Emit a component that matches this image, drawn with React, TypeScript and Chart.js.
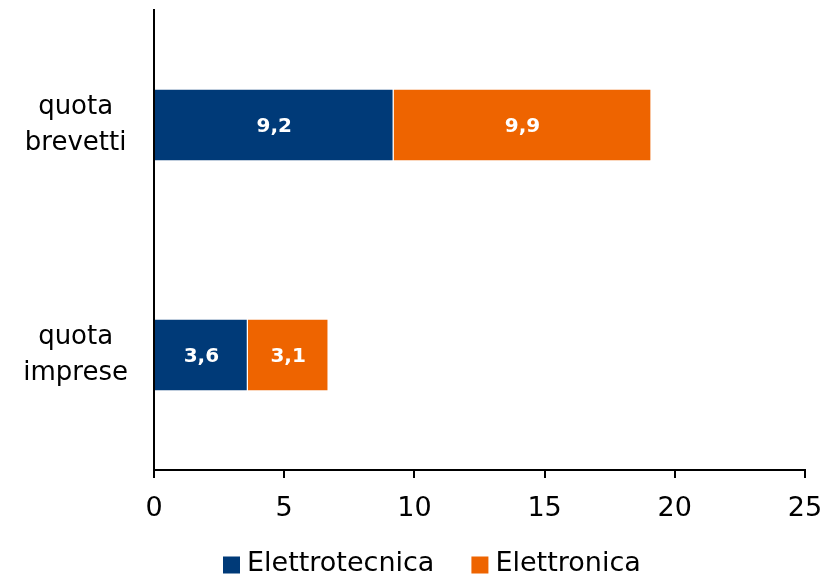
import React, { useEffect, useRef } from "react";
import { Chart, registerables } from "chart.js";

Chart.register(...registerables);

const categories: string[][] = [["quota", "brevetti"], ["quota", "imprese"]];
const seriesNames = ["Elettrotecnica", "Elettronica"];
const seriesColors = ["#003A78", "#EE6400"];
const elettrotecnica = [9.2, 3.6];
const elettronica = [9.9, 3.1];
const xTicks = [0, 5, 10, 15, 20, 25];

const FONT = "'DejaVu Sans', sans-serif";

const labelPlugin = {
  id: "barLabels",
  afterDatasetsDraw(chart: any) {
    const ctx = chart.ctx;
    ctx.save();
    ctx.fillStyle = "#ffffff";
    ctx.font = `bold 20px ${FONT}`;
    ctx.textAlign = "center";
    ctx.textBaseline = "middle";
    chart.data.datasets.forEach((ds: any, di: number) => {
      const meta = chart.getDatasetMeta(di);
      meta.data.forEach((bar: any, i: number) => {
        const v = ds.data[i];
        const cx = (bar.x + bar.base) / 2;
        ctx.fillText(String(v).replace(".", ","), cx, bar.y + 2);
      });
    });
    ctx.restore();
  },
};

const legendPlugin = {
  id: "customLegend",
  afterDraw(chart: any) {
    const ctx = chart.ctx;
    ctx.save();
    ctx.font = `27px ${FONT}`;
    ctx.textBaseline = "middle";
    ctx.textAlign = "left";
    const box = 17;
    const gapBoxText = 7;
    const gapItems = 37;
    const items = chart.data.datasets.map((d: any) => ({
      text: d.label,
      color: d.backgroundColor,
      w: ctx.measureText(d.label).width,
    }));
    let x = 223;
    const cy = 564;
    items.forEach((it: any) => {
      ctx.fillStyle = it.color;
      ctx.fillRect(x, cy - box / 2 + 1, box, box);
      x += box + gapBoxText;
      ctx.fillStyle = "#000";
      ctx.fillText(it.text, x, cy);
      x += it.w + gapItems;
    });
    ctx.restore();
  },
};

export default function App() {
  const ref = useRef<HTMLCanvasElement>(null);
  useEffect(() => {
    document.body.style.margin = "0";
    const chart = new Chart(ref.current!, {
      type: "bar",
      data: {
        labels: categories,
        datasets: [
          {
            label: seriesNames[0],
            data: elettrotecnica,
            backgroundColor: seriesColors[0],
            borderColor: "#ffffff",
            borderWidth: 1,
            barPercentage: 0.63,
            categoryPercentage: 0.5,
          },
          {
            label: seriesNames[1],
            data: elettronica,
            backgroundColor: seriesColors[1],
            borderColor: "#ffffff",
            borderWidth: 1,
            barPercentage: 0.63,
            categoryPercentage: 0.5,
          },
        ],
      },
      options: {
        indexAxis: "y",
        animation: false,
        responsive: false,
        maintainAspectRatio: false,
        layout: { padding: { top: 10, right: 18, bottom: 57, left: 0 } },
        plugins: {
          legend: { display: false },
          tooltip: { enabled: false },
        },
        scales: {
          x: {
            stacked: true,
            min: 0,
            max: 25,
            afterBuildTicks: (s: any) => {
              s.ticks = xTicks.map((v) => ({ value: v }));
            },
            grid: {
              drawOnChartArea: false,
              drawTicks: true,
              tickLength: 8,
              color: "#000",
              lineWidth: 2,
            },
            border: { color: "#000", width: 2 },
            ticks: {
              font: { family: FONT, size: 27 },
              color: "#000",
              padding: 15,
              maxRotation: 0,
            },
            afterFit: (s: any) => {
              s.height = 50;
              s.paddingLeft = 0;
              s.paddingRight = 0;
            },
          },
          y: {
            stacked: true,
            grid: { display: false },
            border: { color: "#000", width: 2 },
            ticks: {
              font: { family: FONT, size: 26, lineHeight: 1.38 },
              color: "#000",
              padding: 18,
              crossAlign: "center",
            },
            afterFit: (s: any) => {
              s.width = 154;
              s.paddingTop = 0;
              s.paddingBottom = 0;
            },
          },
        },
      },
      plugins: [labelPlugin, legendPlugin],
    });
    return () => chart.destroy();
  }, []);
  return (
    <div style={{ width: 823, height: 577 }}>
      <canvas ref={ref} width={823} height={577} style={{ width: 823, height: 577 }} />
    </div>
  );
}
